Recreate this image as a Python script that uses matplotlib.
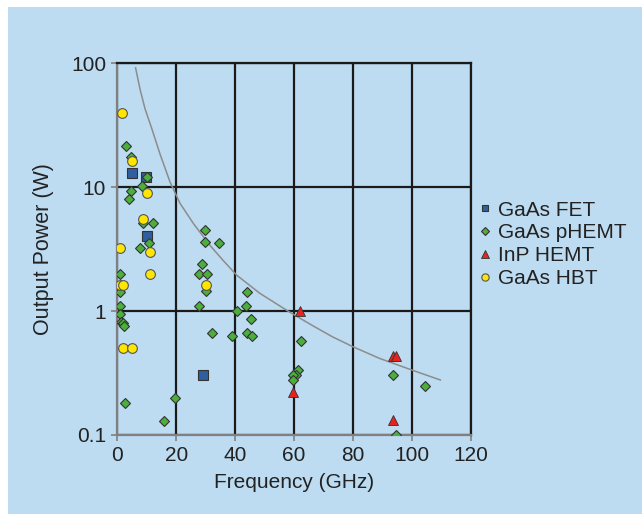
import matplotlib
matplotlib.use('Agg')
import matplotlib.pyplot as plt
from matplotlib.patches import Rectangle

# data (frequency in GHz, output power in W)
FET_FREQ = [4.9, 9.6, 10.2, 29.2]
FET_POWER = [13.0, 12.1, 4.03, 0.305]

PHEMT_FREQ = [2.8, 4.5, 10.2, 8.4, 4.5, 4.1, 8.8, 12.0, 10.8, 7.7,
              29.8, 29.8, 34.5, 0.9, 28.6, 27.8, 30.5, 0.9, 30.0, 44.0,
              0.9, 27.8, 43.5, 40.7, 0.9, 1.1, 1.8, 2.3, 45.2, 32.0,
              38.9, 44.0, 45.6, 2.6, 19.7, 15.9, 62.4, 61.4, 60.5, 59.5,
              59.7, 93.7, 94.5, 104.5]
PHEMT_POWER = [21.5, 17.4, 12.0, 10.2, 9.4, 8.0, 5.1, 5.16, 3.55, 3.26,
               4.5, 3.58, 3.53, 2.01, 2.42, 2.01, 2.01, 1.42, 1.46, 1.42,
               1.10, 1.10, 1.10, 1.0, 0.95, 0.82, 0.80, 0.76, 0.86, 0.67,
               0.625, 0.66, 0.63, 0.18, 0.20, 0.13, 0.57, 0.334, 0.306, 0.306,
               0.278, 0.305, 0.10, 0.25]

INP_FREQ = [62.0, 59.7, 93.6, 94.5, 93.6]
INP_POWER = [1.0, 0.222, 0.434, 0.434, 0.132]

HBT_FREQ = [1.7, 4.9, 10.2, 8.8, 0.9, 11.1, 11.1, 0.9, 2.0, 30.0, 2.0, 5.0]
HBT_POWER = [40.0, 16.3, 9.06, 5.52, 3.24, 3.0, 2.01, 1.62, 1.62, 1.62, 0.50, 0.50]

# trend curve, points
CURVE_FREQ = [6.2, 7.7, 9.4, 11.7, 14.5, 17.9, 21.3, 25.8, 31.4, 36.0, 40.5,
              48.4, 58.5, 66.4, 73.0, 80.0, 89.0, 100.0, 109.6]
CURVE_POWER = [92, 62, 43, 29.7, 18.5, 11.0, 7.4, 5.1, 3.4, 2.55, 1.95,
               1.39, 0.98, 0.76, 0.62, 0.515, 0.415, 0.334, 0.278]

BG = '#bddcf1'
TXT = '#222222'
plt.rcParams['font.family'] = ['Liberation Sans', 'DejaVu Sans']

fig = plt.figure(figsize=(6.42, 5.14), dpi=100, facecolor=BG)
# thin white strips along the top and left edge
fig.patches.append(Rectangle((0, 0), 8 / 642, 1, transform=fig.transFigure,
                             facecolor='white', edgecolor='none', zorder=-10))
fig.patches.append(Rectangle((0, 1 - 7 / 514), 1, 7 / 514, transform=fig.transFigure,
                             facecolor='white', edgecolor='none', zorder=-10))

ax = fig.add_axes([117.3 / 642, 1 - 435 / 514, (471 - 117.3) / 642, (435 - 63.3) / 514])
ax.set_facecolor(BG)
ax.set_yscale('log')
ax.set_xlim(0, 120)
ax.set_ylim(0.1, 100)
ax.set_xticks(range(0, 121, 20))
ax.set_yticks([0.1, 1, 10, 100])
ax.set_yticklabels(['0.1', '1', '10', '100'])
ax.minorticks_off()
ax.set_axisbelow(True)
ax.grid(True, color='#1a1a1a', lw=1.6)

for side in ['top', 'right']:
    ax.spines[side].set_color('#1a1a1a')
    ax.spines[side].set_linewidth(1.6)
for side in ['left', 'bottom']:
    ax.spines[side].set_color('#808080')
    ax.spines[side].set_linewidth(1.6)
ax.tick_params(direction='out', length=4, width=1.2, color='#808080',
               labelsize=15, labelcolor=TXT, pad=4)

ax.plot(CURVE_FREQ, CURVE_POWER, color='#8c8c8c', lw=1.1, zorder=2)

edge = '#333333'
ax.plot(FET_FREQ, FET_POWER, ls='none', marker='s', ms=6.5, mfc='#2f5f9e',
        mec=edge, mew=0.8, label='GaAs FET', zorder=3)
ax.plot(PHEMT_FREQ, PHEMT_POWER, ls='none', marker='D', ms=5.2, mfc='#4caf3c',
        mec=edge, mew=0.8, label='GaAs pHEMT', zorder=4)
ax.plot(INP_FREQ, INP_POWER, ls='none', marker='^', ms=7, mfc='#e8231f',
        mec=edge, mew=0.6, label='InP HEMT', zorder=5)
ax.plot(HBT_FREQ, HBT_POWER, ls='none', marker='o', ms=7, mfc='#ffe600',
        mec='#555555', mew=0.8, label='GaAs HBT', zorder=4)

ax.set_xlabel('Frequency (GHz)', fontsize=15, color=TXT, labelpad=6)
ax.set_ylabel('Output Power (W)', fontsize=15.5, color=TXT, labelpad=12)

fig.legend(loc='upper left', bbox_to_anchor=(465 / 642, 1 - 186 / 514),
           frameon=False, fontsize=15, markerscale=0.75, handlelength=0.5,
           handletextpad=0.4, labelspacing=0.18, borderpad=0.2,
           labelcolor=TXT)

fig.savefig('out.png', dpi=100, facecolor=BG)
